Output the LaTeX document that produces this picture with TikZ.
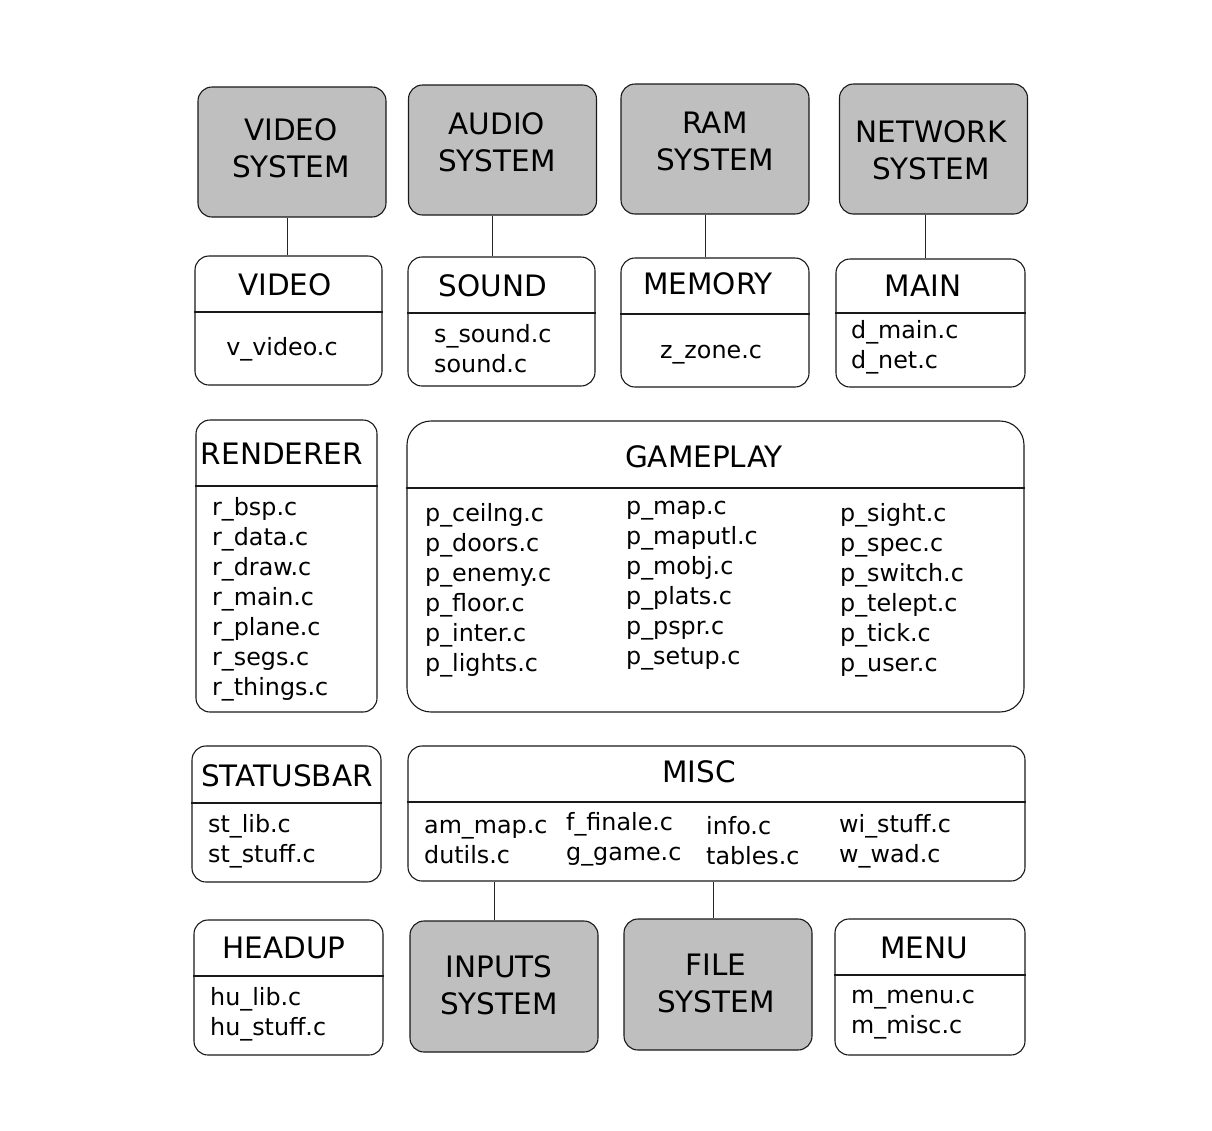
\documentclass[tikz,border=0pt]{standalone}
\usepackage{fontspec}
\setmainfont{DejaVu Sans}
\newcommand{\ttlfont}{\fontsize{29.5pt}{37pt}\selectfont}
\newcommand{\lstfont}{\fontsize{23.8pt}{30pt}\selectfont}

\begin{document}
\begin{tikzpicture}[x=1pt, y=-1pt,
  ln/.style    ={draw=black!90, line width=1.1pt},
  sysbox/.style={ln, fill=black!25, rounded corners=14pt, inner sep=0pt,
                 minimum width=188pt, minimum height=130pt},
  modbox/.style={ln, fill=white, rounded corners=14pt, inner sep=0pt},
  ttl/.style   ={font=\ttlfont, inner sep=0pt, align=center},
  lst/.style   ={font=\lstfont, inner sep=0pt, align=left, anchor=west},
  con/.style   ={draw=black!85, line width=1pt}]
\useasboundingbox (0,0) rectangle (1212,1130);

% system blocks, top row
\node[sysbox] (vsys) at (292,152) {};
\node[ttl] (vsysT) at (291,148.5) {VIDEO\\SYSTEM};
\node[sysbox] (asys) at (502.5,150) {};
\node[ttl] (asysT) at (497,142.5) {AUDIO\\SYSTEM};
\node[sysbox] (rsys) at (715,149) {};
\node[ttl] (rsysT) at (715,141.5) {RAM\\SYSTEM};
\node[sysbox] (nsys) at (933.5,149) {};
\node[ttl] (nsysT) at (931,150) {NETWORK\\SYSTEM};

% modules
\node[modbox, minimum width=187pt, minimum height=129pt] (video) at (288.5,320.5) {};
\node[ttl] (videoT) at (285,285) {VIDEO};
\node[lst, anchor=center] (videoL) at (282,349) {v\_video.c};

\node[modbox, minimum width=187pt, minimum height=129pt] (sound) at (501.5,321.5) {};
\node[ttl] (soundT) at (493,286) {SOUND};
\node[lst] (soundL) at (434,349) {s\_sound.c\\sound.c};

\node[modbox, minimum width=188pt, minimum height=129pt] (memory) at (715,322.5) {};
\node[ttl] (memoryT) at (708,284) {MEMORY};
\node[lst, anchor=center] (memoryL) at (711,355) {z\_zone.c};

\node[modbox, minimum width=189pt, minimum height=128pt] (main) at (930.5,323) {};
\node[ttl] (mainT) at (923,286) {MAIN};
\node[lst] (mainL) at (851,347) {d\_main.c\\d\_net.c};

\node[modbox, minimum width=181pt, minimum height=292pt] (renderer) at (286.5,566) {};
\node[ttl] (rendererT) at (282,454) {RENDERER};
\node[lst] (rendererL) at (212,599.5) {r\_bsp.c\\r\_data.c\\r\_draw.c\\r\_main.c\\
  r\_plane.c\\r\_segs.c\\r\_things.c};

\node[modbox, rounded corners=24pt, minimum width=617pt, minimum height=291pt]
  (gameplay) at (715.5,566.5) {};
\node[ttl] (gameplayT) at (704,457) {GAMEPLAY};
\node[lst] (gameplayA) at (425,590.5) {p\_ceilng.c\\p\_doors.c\\p\_enemy.c\\
  p\_floor.c\\p\_inter.c\\p\_lights.c};
\node[lst] (gameplayB) at (626,585.5) {p\_map.c\\p\_maputl.c\\p\_mobj.c\\
  p\_plats.c\\p\_pspr.c\\p\_setup.c};
\node[lst] (gameplayC) at (840,590.5) {p\_sight.c\\p\_spec.c\\p\_switch.c\\
  p\_telept.c\\p\_tick.c\\p\_user.c};

\node[modbox, minimum width=189pt, minimum height=136pt] (statusbar) at (286.5,814) {};
\node[ttl] (statusbarT) at (287,776) {STATUSBAR};
\node[lst] (statusbarL) at (208,841) {st\_lib.c\\st\_stuff.c};

\node[modbox, minimum width=617pt, minimum height=135pt] (misc) at (716.5,813.5) {};
\node[ttl] (miscT) at (699,772) {MISC};
\node[lst] (miscA) at (424,841.5) {am\_map.c\\dutils.c};
\node[lst] (miscB) at (566,839.5) {f\_finale.c\\g\_game.c};
\node[lst] (miscC) at (706,841) {info.c\\tables.c};
\node[lst] (miscD) at (839,841.5) {wi\_stuff.c\\w\_wad.c};

\node[modbox, minimum width=189pt, minimum height=135pt] (headup) at (288.5,987.5) {};
\node[ttl] (headupT) at (284,948) {HEADUP};
\node[lst] (headupL) at (210,1014) {hu\_lib.c\\hu\_stuff.c};

\node[sysbox, minimum height=131pt] (inputs) at (504,986.5) {};
\node[ttl] (inputsT) at (499,985.5) {INPUTS\\SYSTEM};
\node[sysbox, minimum height=131pt] (files) at (718,984.5) {};
\node[ttl] (filesT) at (716,983.5) {FILE\\SYSTEM};

\node[modbox, minimum width=190pt, minimum height=136pt] (menu) at (930,987) {};
\node[ttl] (menuT) at (924,948) {MENU};
\node[lst] (menuL) at (851,1015) {m\_menu.c\\m\_misc.c};

% title separators
\foreach \n/\y in {video/312,sound/313,memory/314,main/313,renderer/486,
                   gameplay/488,statusbar/803,misc/802,headup/976,menu/975}
  \draw[ln] (\n.west |- 0,\y) -- (\n.east |- 0,\y);

% links
\foreach \a/\b/\x in {vsys/video/287,asys/sound/492,rsys/memory/705,
                      nsys/main/925,misc/inputs/494,misc/files/713}
  \draw[con] (\x,0 |- \a.south) -- (\x,0 |- \b.north);
\end{tikzpicture}
\end{document}
